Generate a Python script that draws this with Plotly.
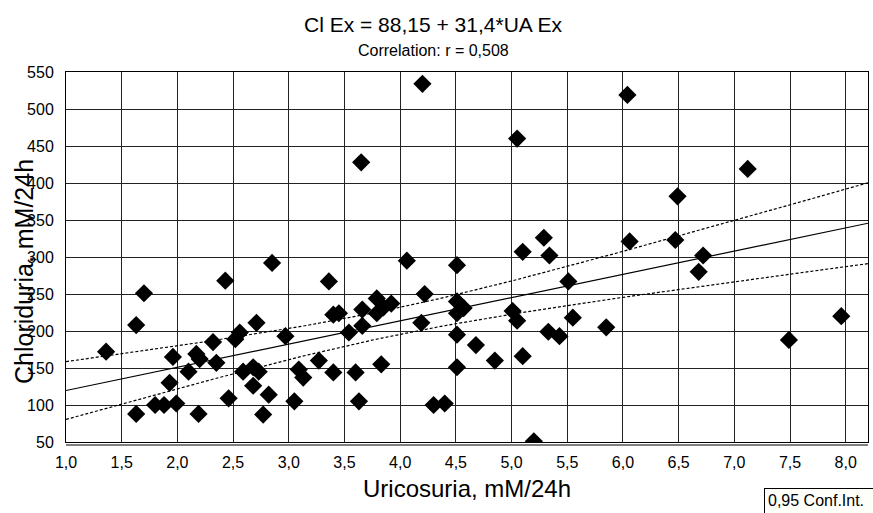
import numpy as np
import plotly.graph_objects as go

# Data (Uricosuria vs Chloriduria, mM/24h)
ua_ex = [1.36, 1.63, 1.70, 1.63, 1.80, 1.88, 1.99, 1.93, 1.96, 2.10,
         2.19, 2.17, 2.20, 2.32, 2.35, 2.43, 2.46, 2.52, 2.56, 2.59,
         2.68, 2.73, 2.68, 2.71, 2.82, 2.77, 2.85, 2.97, 3.05, 3.09,
         3.13, 3.27, 3.36, 3.40, 3.45, 3.54, 3.40, 3.60, 3.66, 3.66,
         3.63, 3.65, 3.79, 3.79, 3.92, 3.83, 3.85, 4.06, 4.20, 4.22,
         4.19, 4.30, 4.40, 4.51, 4.51, 4.57, 4.51, 4.51, 4.68, 4.51,
         4.85, 5.01, 5.05, 5.05, 5.10, 5.20, 5.10, 5.29, 5.34, 5.33,
         5.43, 5.55, 5.51, 5.85, 6.04, 6.06, 6.47, 6.49, 6.72, 6.68,
         7.12, 7.49, 7.96]
cl_ex = [172, 208, 251, 88, 100, 100, 102, 130, 165, 145,
         88, 169, 162, 185, 157, 268, 109, 189, 198, 145,
         151, 145, 126, 211, 114, 87, 292, 193, 105, 148,
         137, 160, 267, 222, 224, 198, 144, 144, 229, 207,
         105, 428, 244, 224, 237, 155, 232, 295, 534, 250,
         211, 100, 102, 289, 240, 231, 224, 195, 181, 151,
         160, 227, 214, 460, 166, 51, 307, 326, 302, 199,
         193, 218, 267, 205, 519, 321, 323, 382, 302, 280,
         419, 188, 220]

intercept = 88.15
slope = 31.4
x_range = [1.0, 8.2]
y_range = [50, 550]
x_ticks = [1.0, 1.5, 2.0, 2.5, 3.0, 3.5, 4.0, 4.5, 5.0, 5.5, 6.0, 6.5, 7.0, 7.5, 8.0]
y_ticks = [50, 100, 150, 200, 250, 300, 350, 400, 450, 500, 550]

title_text = "Cl Ex = 88,15 + 31,4*UA Ex"
subtitle_text = "Correlation: r = 0,508"
x_title = "Uricosuria, mM/24h"
y_title = "Chloriduria, mM/24h"
legend_text = "0,95 Conf.Int."

# regression line and 95% confidence band for the mean
x = np.array(ua_ex, dtype=float)
y = np.array(cl_ex, dtype=float)
n = len(x)
xbar = x.mean()
sxx = ((x - xbar) ** 2).sum()
resid = y - (intercept + slope * x)
s = np.sqrt((resid ** 2).sum() / (n - 2))
t = 1.989
xl = np.linspace(x_range[0], x_range[1], 100)
yl = intercept + slope * xl
hw = t * s * np.sqrt(1.0 / n + (xl - xbar) ** 2 / sxx)

W, H = 873, 513
L, R, T, B = 66, 5, 72, 71
PW, PH = W - L - R, H - T - B

def px_x(p):
    return (p - L) / PW

def px_y(p):
    return (H - B - p) / PH

FONT = "Liberation Sans, Arial, sans-serif"

fig = go.Figure()
fig.add_trace(go.Scatter(x=xl, y=yl + hw, mode="lines",
                         line=dict(color="black", width=1.2, dash="3px,2px"),
                         hoverinfo="skip", showlegend=False))
fig.add_trace(go.Scatter(x=xl, y=yl - hw, mode="lines",
                         line=dict(color="black", width=1.2, dash="3px,2px"),
                         hoverinfo="skip", showlegend=False))
fig.add_trace(go.Scatter(x=xl, y=yl, mode="lines",
                         line=dict(color="black", width=1.2),
                         hoverinfo="skip", showlegend=False))
fig.add_trace(go.Scatter(x=ua_ex, y=cl_ex, mode="markers",
                         marker=dict(symbol="diamond", size=14, color="black",
                                     line=dict(width=0)),
                         showlegend=False))

fig.update_layout(
    width=W, height=H,
    margin=dict(l=L, r=R, t=T, b=B),
    paper_bgcolor="white", plot_bgcolor="white",
    separators=", ",
    font=dict(family=FONT, color="black", size=16),
    xaxis=dict(range=x_range, tickvals=x_ticks, tickformat=".1f",
               showgrid=True, gridcolor="#222", gridwidth=1,
               showline=True, linecolor="black", linewidth=1, mirror=True,
               zeroline=False, ticks="", ticklabelstandoff=6,
               tickfont=dict(size=16)),
    yaxis=dict(range=y_range, tickvals=y_ticks,
               showgrid=True, gridcolor="#222", gridwidth=1,
               showline=True, linecolor="black", linewidth=1, mirror=True,
               zeroline=False, ticks="", ticklabelstandoff=8,
               tickfont=dict(size=16)),
    shapes=[dict(type="line", xref="paper", yref="paper",
                 x0=0, x1=1, y0=px_y(445), y1=px_y(445),
                 line=dict(color="black", width=1))],
    annotations=[
        dict(text=title_text, xref="paper", yref="paper",
             x=px_x(433), y=px_y(25), showarrow=False,
             xanchor="center", yanchor="middle", font=dict(size=21)),
        dict(text=subtitle_text, xref="paper", yref="paper",
             x=px_x(433), y=px_y(51), showarrow=False,
             xanchor="center", yanchor="middle", font=dict(size=16)),
        dict(text=x_title, xref="paper", yref="paper",
             x=0.5, y=px_y(488), showarrow=False,
             xanchor="center", yanchor="middle", font=dict(size=24)),
        dict(text=y_title, xref="paper", yref="paper",
             x=px_x(24), y=px_y(272), showarrow=False, textangle=-90,
             xanchor="center", yanchor="middle", font=dict(size=25)),
        dict(text=legend_text, xref="paper", yref="paper",
             x=px_x(764), y=px_y(488), showarrow=False,
             xanchor="left", yanchor="top", align="left", valign="top",
             width=118, height=30,
             bordercolor="black", borderwidth=1, borderpad=3,
             bgcolor="#fffffa", font=dict(size=16)),
    ],
)

fig.write_html("out.html")
